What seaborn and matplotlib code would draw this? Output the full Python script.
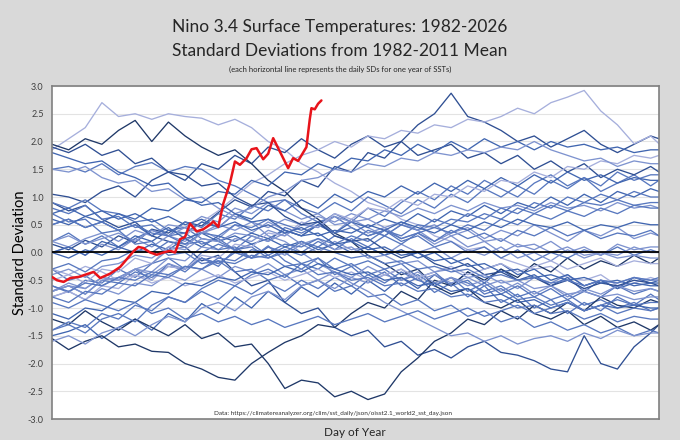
import numpy as np
import pandas as pd
import matplotlib
matplotlib.use("Agg")
import matplotlib.pyplot as plt
import seaborn as sns

# sample days for the historic years (every 10 days, plus the last day)
days = list(range(1, 362, 10)) + [366]

# daily SDs, one list per year
sd_1982 = [0.15, 0.05, 0.22, 0.1, 0.3, 0.18, 0.42, 0.35, 0.55, 0.48,
           0.72, 0.95, 0.82, 1.1, 1.02, 1.3, 1.18, 1.55, 1.45, 1.8,
           1.7, 2.0, 2.3, 2.5, 2.87, 2.45, 2.35, 2.2, 2.0, 2.1,
           1.9, 2.05, 2.2, 1.95, 1.8, 1.95, 2.1, 2.05]
sd_1983 = [1.85, 2.05, 2.25, 2.7, 2.45, 2.5, 2.4, 2.5, 2.45, 2.42,
           2.3, 2.4, 2.25, 2.0, 1.85, 1.6, 1.45, 1.25, 1.1, 0.9,
           0.8, 0.6, 0.5, 0.3, 0.2, 0.05, 0.1, -0.1, -0.2, -0.3,
           -0.25, -0.45, -0.5, -0.4, -0.6, -0.55, -0.45, -0.5]
sd_1984 = [-0.3, -0.5, -0.42, -0.6, -0.45, -0.3, -0.5, -0.2, -0.35, -0.1,
           -0.25, 0.05, -0.1, 0.12, -0.15, -0.3, -0.1, -0.4, -0.25, -0.5,
           -0.35, -0.6, -0.45, -0.72, -0.55, -0.8, -0.6, -0.9, -0.75, -1.0,
           -0.85, -1.1, -0.9, -1.05, -0.8, -0.95, -0.75, -0.85]
sd_1985 = [-1.5, -1.42, -1.3, -1.55, -1.35, -1.2, -1.4, -1.1, -1.25, -0.92,
           -1.1, -0.8, -1.0, -0.7, -0.9, -0.62, -0.8, -0.55, -0.75, -0.5,
           -0.7, -0.45, -0.65, -0.4, -0.6, -0.35, -0.55, -0.3, -0.5, -0.4,
           -0.6, -0.45, -0.7, -0.5, -0.65, -0.45, -0.55, -0.5]
sd_1986 = [-0.6, -0.72, -0.5, -0.55, -0.3, -0.45, -0.2, -0.1, -0.3, 0.0,
           0.15, 0.05, 0.3, 0.2, 0.45, 0.35, 0.5, 0.7, 0.55, 0.8,
           0.65, 0.9, 1.1, 0.95, 1.2, 1.05, 1.3, 1.15, 1.0, 1.25,
           1.4, 1.2, 1.35, 1.1, 1.25, 1.4, 1.2, 1.3]
sd_1987 = [1.05, 1.0, 0.9, 1.1, 1.2, 1.0, 1.3, 1.45, 1.3, 1.6,
           1.5, 1.75, 1.6, 1.9, 1.8, 2.05, 1.85, 1.7, 1.95, 2.1,
           1.9, 2.0, 1.75, 1.85, 1.95, 1.7, 1.8, 1.6, 1.75, 1.5,
           1.65, 1.45, 1.6, 1.35, 1.5, 1.4, 1.55, 1.45]
sd_1988 = [0.9, 0.75, 0.85, 0.6, 0.45, 0.55, 0.3, 0.2, 0.1, -0.15,
           -0.05, -0.35, -0.6, -0.5, -0.9, -1.1, -1.0, -1.35, -1.5, -1.4,
           -1.7, -1.6, -1.85, -1.75, -1.9, -1.7, -1.6, -1.8, -1.85, -1.95,
           -2.1, -2.15, -1.5, -2.0, -2.1, -1.7, -1.45, -1.3]
sd_1989 = [-1.55, -1.75, -1.6, -1.5, -1.7, -1.65, -1.78, -1.8, -2.0, -2.1,
           -2.25, -2.3, -2.0, -1.8, -1.62, -1.5, -1.3, -1.35, -1.1, -0.9,
           -1.0, -0.7, -0.85, -0.5, -0.6, -0.35, -0.5, -0.3, -0.45, -0.2,
           -0.35, -0.1, -0.3, -0.15, -0.25, -0.05, -0.2, -0.1]
sd_1990 = [0.0, 0.1, -0.05, 0.15, 0.05, 0.25, 0.1, 0.3, 0.2, 0.4,
           0.25, 0.5, 0.35, 0.55, 0.4, 0.3, 0.5, 0.35, 0.6, 0.45,
           0.3, 0.5, 0.4, 0.2, 0.35, 0.45, 0.25, 0.4, 0.3, 0.5,
           0.35, 0.2, 0.4, 0.3, 0.45, 0.25, 0.35, 0.3]
sd_1991 = [0.2, 0.35, 0.15, 0.3, 0.1, 0.25, 0.4, 0.3, 0.55, 0.45,
           0.7, 0.6, 0.85, 0.75, 0.95, 0.8, 0.7, 0.9, 0.75, 1.0,
           0.85, 0.7, 0.95, 0.8, 1.05, 0.9, 1.15, 1.0, 1.2, 1.05,
           1.3, 1.15, 1.35, 1.2, 1.45, 1.3, 1.4, 1.4]
sd_1992 = [1.5, 1.55, 1.45, 1.6, 1.4, 1.55, 1.62, 1.45, 1.55, 1.5,
           1.3, 1.2, 1.05, 0.9, 0.95, 0.7, 0.55, 0.65, 0.45, 0.3,
           0.4, 0.2, 0.3, 0.1, 0.2, 0.0, 0.1, -0.1, 0.05, -0.15,
           0.0, -0.1, 0.05, -0.05, 0.1, -0.05, 0.05, 0.0]
sd_1993 = [0.2, 0.1, 0.25, 0.35, 0.2, 0.4, 0.3, 0.5, 0.45, 0.65,
           0.55, 0.8, 0.7, 0.9, 0.75, 0.6, 0.7, 0.5, 0.55, 0.35,
           0.45, 0.25, 0.35, 0.15, 0.3, 0.1, 0.2, 0.0, 0.15, 0.05,
           0.2, 0.0, 0.1, -0.05, 0.15, 0.05, 0.1, 0.1]
sd_1994 = [0.0, -0.1, 0.05, -0.05, 0.1, 0.0, 0.15, 0.05, 0.25, 0.1,
           0.3, 0.2, 0.35, 0.25, 0.4, 0.3, 0.5, 0.35, 0.55, 0.45,
           0.6, 0.5, 0.7, 0.55, 0.75, 0.65, 0.85, 0.7, 0.9, 0.8,
           1.0, 0.85, 1.05, 0.9, 1.1, 1.0, 1.15, 1.1]
sd_1995 = [0.9, 0.8, 0.95, 0.75, 0.7, 0.55, 0.6, 0.4, 0.45, 0.25,
           0.2, 0.05, 0.1, -0.1, 0.0, -0.2, -0.1, -0.3, -0.2, -0.4,
           -0.3, -0.5, -0.4, -0.6, -0.45, -0.55, -0.7, -0.6, -0.8, -0.7,
           -0.85, -0.75, -0.95, -0.85, -1.0, -0.9, -1.05, -1.0]
sd_1996 = [-0.8, -0.7, -0.85, -0.65, -0.75, -0.55, -0.6, -0.4, -0.5, -0.3,
           -0.45, -0.25, -0.35, -0.2, -0.4, -0.3, -0.5, -0.35, -0.45, -0.25,
           -0.4, -0.3, -0.5, -0.4, -0.55, -0.45, -0.6, -0.5, -0.65, -0.45,
           -0.55, -0.4, -0.6, -0.5, -0.55, -0.45, -0.5, -0.5]
sd_1997 = [-0.5, -0.4, -0.55, -0.3, -0.35, -0.1, -0.2, 0.1, 0.3, 0.55,
           0.75, 1.0, 1.25, 1.4, 1.6, 1.75, 1.85, 2.0, 1.9, 2.1,
           2.05, 2.2, 2.15, 2.3, 2.25, 2.4, 2.35, 2.45, 2.6, 2.5,
           2.7, 2.8, 2.92, 2.55, 2.3, 1.96, 2.1, 1.96]
sd_1998 = [1.95, 1.85, 2.05, 1.95, 2.2, 2.38, 2.0, 2.35, 2.1, 1.9,
           1.75, 1.85, 1.6, 1.3, 1.1, 0.8, 0.6, 0.35, 0.2, -0.05,
           -0.2, -0.4, -0.3, -0.6, -0.75, -0.65, -0.9, -1.0, -0.85, -1.1,
           -1.2, -1.05, -1.3, -1.15, -1.35, -1.25, -1.4, -1.3]
sd_1999 = [-1.2, -1.3, -1.05, -1.25, -1.4, -1.2, -1.35, -1.5, -1.3, -1.55,
           -1.45, -1.7, -1.65, -2.0, -2.45, -2.3, -2.35, -2.6, -2.5, -2.65,
           -2.55, -2.15, -1.9, -1.6, -1.45, -1.2, -1.3, -1.05, -1.2, -0.95,
           -1.1, -0.9, -1.05, -0.8, -0.95, -1.0, -0.85, -0.9]
sd_2000 = [-1.4, -1.25, -1.35, -1.1, -1.2, -0.95, -1.05, -0.8, -0.9, -0.7,
           -0.85, -0.6, -0.75, -0.55, -0.7, -0.5, -0.65, -0.45, -0.6, -0.4,
           -0.55, -0.35, -0.5, -0.6, -0.45, -0.7, -0.55, -0.75, -0.6, -0.8,
           -0.65, -0.85, -0.7, -0.8, -0.6, -0.75, -0.65, -0.7]
sd_2001 = [-0.7, -0.55, -0.65, -0.45, -0.5, -0.3, -0.4, -0.2, -0.3, -0.1,
           -0.2, 0.0, -0.1, 0.1, -0.05, 0.15, 0.0, 0.2, 0.05, 0.1,
           -0.05, 0.15, 0.0, 0.1, -0.1, 0.05, -0.05, 0.1, -0.1, 0.0,
           -0.15, 0.05, -0.1, 0.0, -0.05, 0.1, 0.0, 0.0]
sd_2002 = [0.0, 0.1, -0.05, 0.2, 0.1, 0.3, 0.2, 0.4, 0.35, 0.55,
           0.45, 0.7, 0.6, 0.85, 0.75, 0.95, 0.8, 1.05, 0.9, 1.1,
           1.0, 1.2, 1.05, 1.25, 1.1, 1.3, 1.15, 1.35, 1.2, 1.4,
           1.25, 1.45, 1.3, 1.4, 1.25, 1.35, 1.3, 1.3]
sd_2003 = [0.8, 0.7, 0.85, 0.6, 0.65, 0.45, 0.5, 0.3, 0.35, 0.15,
           0.25, 0.05, 0.15, -0.05, 0.1, 0.0, 0.2, 0.05, 0.25, 0.1,
           0.3, 0.15, 0.35, 0.2, 0.4, 0.25, 0.35, 0.2, 0.4, 0.3,
           0.45, 0.3, 0.4, 0.25, 0.35, 0.3, 0.4, 0.3]
sd_2004 = [0.2, 0.3, 0.15, 0.25, 0.35, 0.2, 0.4, 0.3, 0.45, 0.35,
           0.5, 0.4, 0.55, 0.45, 0.6, 0.5, 0.65, 0.55, 0.7, 0.6,
           0.75, 0.65, 0.8, 0.7, 0.85, 0.75, 0.9, 0.8, 0.85, 0.75,
           0.9, 0.8, 0.85, 0.75, 0.9, 0.8, 0.85, 0.8]
sd_2005 = [0.5, 0.6, 0.45, 0.55, 0.4, 0.5, 0.3, 0.45, 0.25, 0.35,
           0.2, 0.3, 0.15, 0.25, 0.1, 0.2, 0.05, 0.15, 0.0, 0.1,
           -0.05, 0.05, -0.1, 0.0, -0.2, -0.1, -0.3, -0.2, -0.4, -0.3,
           -0.5, -0.4, -0.6, -0.5, -0.65, -0.55, -0.6, -0.6]
sd_2006 = [-0.7, -0.6, -0.75, -0.5, -0.55, -0.35, -0.45, -0.25, -0.3, -0.1,
           -0.2, 0.0, -0.1, 0.1, 0.0, 0.2, 0.1, 0.3, 0.2, 0.4,
           0.3, 0.5, 0.4, 0.6, 0.5, 0.7, 0.6, 0.8, 0.7, 0.9,
           0.8, 1.0, 0.9, 1.05, 0.95, 1.1, 1.0, 1.0]
sd_2007 = [0.7, 0.55, 0.6, 0.35, 0.4, 0.15, 0.2, -0.05, 0.0, -0.2,
           -0.15, -0.35, -0.3, -0.5, -0.4, -0.6, -0.5, -0.7, -0.6, -0.8,
           -0.75, -0.95, -0.85, -1.05, -0.95, -1.15, -1.05, -1.25, -1.15, -1.35,
           -1.25, -1.4, -1.3, -1.45, -1.35, -1.5, -1.4, -1.45]
sd_2008 = [-1.6, -1.5, -1.65, -1.45, -1.35, -1.5, -1.3, -1.15, -1.25, -1.0,
           -0.9, -1.05, -0.8, -0.7, -0.85, -0.6, -0.5, -0.65, -0.45, -0.55,
           -0.4, -0.5, -0.35, -0.55, -0.45, -0.6, -0.5, -0.7, -0.55, -0.75,
           -0.6, -0.8, -0.65, -0.75, -0.6, -0.7, -0.65, -0.7]
sd_2009 = [-0.8, -0.7, -0.85, -0.6, -0.65, -0.4, -0.5, -0.25, -0.3, -0.05,
           -0.1, 0.15, 0.1, 0.35, 0.3, 0.55, 0.45, 0.7, 0.6, 0.8,
           0.75, 0.95, 0.85, 1.05, 1.0, 1.2, 1.1, 1.3, 1.25, 1.45,
           1.35, 1.55, 1.5, 1.65, 1.6, 1.75, 1.7, 1.75]
sd_2010 = [1.5, 1.45, 1.55, 1.35, 1.25, 1.3, 1.1, 1.15, 0.95, 1.0,
           0.8, 0.65, 0.55, 0.3, 0.2, 0.0, -0.2, -0.35, -0.55, -0.7,
           -0.9, -1.05, -1.2, -1.35, -1.5, -1.45, -1.6, -1.5, -1.65, -1.55,
           -1.5, -1.6, -1.45, -1.55, -1.4, -1.5, -1.45, -1.45]
sd_2011 = [-1.4, -1.3, -1.45, -1.2, -1.1, -1.25, -0.95, -0.8, -0.9, -0.65,
           -0.5, -0.6, -0.4, -0.3, -0.45, -0.2, -0.3, -0.1, -0.25, -0.15,
           -0.3, -0.2, -0.45, -0.35, -0.6, -0.5, -0.75, -0.65, -0.85, -0.8,
           -0.95, -0.85, -1.05, -0.95, -1.1, -1.0, -1.05, -1.0]
sd_2012 = [-0.7, -0.6, -0.75, -0.5, -0.45, -0.3, -0.35, -0.1, -0.15, 0.1,
           0.05, 0.25, 0.2, 0.4, 0.3, 0.5, 0.45, 0.65, 0.55, 0.6,
           0.45, 0.55, 0.4, 0.5, 0.3, 0.4, 0.2, 0.25, 0.1, 0.15,
           0.0, 0.1, -0.05, 0.0, -0.1, -0.05, -0.1, -0.1]
sd_2013 = [-0.3, -0.4, -0.25, -0.35, -0.5, -0.4, -0.55, -0.45, -0.6, -0.5,
           -0.4, -0.55, -0.45, -0.35, -0.5, -0.4, -0.3, -0.45, -0.35, -0.5,
           -0.4, -0.3, -0.45, -0.35, -0.25, -0.4, -0.3, -0.2, -0.35, -0.25,
           -0.15, -0.3, -0.2, -0.1, -0.25, -0.15, -0.2, -0.2]
sd_2014 = [-0.3, -0.2, -0.35, -0.15, -0.1, 0.05, 0.0, 0.2, 0.15, 0.35,
           0.3, 0.5, 0.45, 0.6, 0.5, 0.4, 0.55, 0.35, 0.45, 0.3,
           0.4, 0.25, 0.35, 0.45, 0.35, 0.5, 0.4, 0.6, 0.5, 0.7,
           0.6, 0.75, 0.65, 0.8, 0.7, 0.85, 0.8, 0.8]
sd_2015 = [0.6, 0.5, 0.65, 0.55, 0.7, 0.6, 0.8, 0.75, 0.95, 0.9,
           1.1, 1.05, 1.3, 1.2, 1.45, 1.4, 1.6, 1.5, 1.7, 1.65,
           1.85, 1.75, 1.95, 1.8, 2.0, 1.85, 2.05, 1.9, 2.0, 1.85,
           2.0, 1.9, 1.95, 1.85, 1.9, 1.8, 1.85, 1.85]
sd_2016 = [1.9, 1.8, 1.95, 1.75, 1.85, 1.6, 1.7, 1.45, 1.4, 1.2,
           1.25, 1.0, 0.85, 0.9, 0.65, 0.5, 0.55, 0.3, 0.2, 0.25,
           0.05, -0.1, 0.0, -0.2, -0.3, -0.2, -0.4, -0.35, -0.5, -0.45,
           -0.6, -0.5, -0.65, -0.55, -0.6, -0.5, -0.55, -0.6]
sd_2017 = [-0.4, -0.3, -0.45, -0.25, -0.2, -0.05, -0.1, 0.1, 0.05, 0.25,
           0.2, 0.35, 0.3, 0.2, 0.35, 0.15, 0.25, 0.05, 0.1, -0.1,
           -0.05, -0.2, -0.15, -0.35, -0.3, -0.45, -0.4, -0.55, -0.5, -0.65,
           -0.6, -0.75, -0.7, -0.8, -0.75, -0.85, -0.8, -0.8]
sd_2018 = [-0.8, -0.9, -0.7, -0.75, -0.55, -0.6, -0.4, -0.45, -0.25, -0.3,
           -0.1, -0.15, 0.05, 0.0, 0.15, 0.1, 0.25, 0.15, 0.3, 0.2,
           0.4, 0.3, 0.5, 0.45, 0.6, 0.55, 0.7, 0.6, 0.8, 0.7,
           0.85, 0.75, 0.9, 0.85, 0.95, 0.85, 0.9, 0.9]
sd_2019 = [0.7, 0.8, 0.65, 0.75, 0.6, 0.7, 0.55, 0.65, 0.5, 0.6,
           0.45, 0.55, 0.4, 0.5, 0.35, 0.45, 0.3, 0.4, 0.35, 0.5,
           0.4, 0.55, 0.45, 0.35, 0.5, 0.4, 0.55, 0.45, 0.6, 0.5,
           0.45, 0.55, 0.4, 0.5, 0.45, 0.55, 0.5, 0.5]
sd_2020 = [0.5, 0.6, 0.45, 0.55, 0.4, 0.5, 0.35, 0.3, 0.15, 0.2,
           0.05, 0.1, -0.1, -0.05, -0.25, -0.2, -0.4, -0.35, -0.5, -0.45,
           -0.6, -0.55, -0.7, -0.65, -0.8, -0.75, -0.9, -0.85, -1.0, -0.95,
           -1.1, -1.05, -1.2, -1.1, -1.25, -1.15, -1.2, -1.2]
sd_2021 = [-1.1, -1.2, -1.0, -1.05, -0.85, -0.9, -0.7, -0.75, -0.55, -0.6,
           -0.45, -0.5, -0.35, -0.4, -0.25, -0.35, -0.2, -0.3, -0.4, -0.35,
           -0.5, -0.45, -0.6, -0.55, -0.7, -0.65, -0.8, -0.75, -0.9, -0.85,
           -1.0, -0.9, -1.05, -0.95, -1.0, -0.95, -1.0, -1.0]
sd_2022 = [-0.9, -1.0, -0.85, -0.95, -1.05, -0.9, -1.1, -1.0, -1.2, -1.1,
           -1.25, -1.15, -1.3, -1.2, -1.35, -1.25, -1.15, -1.3, -1.2, -1.1,
           -1.25, -1.15, -1.05, -1.2, -1.1, -1.0, -1.15, -1.05, -0.95, -1.1,
           -1.0, -0.9, -1.05, -0.95, -0.85, -0.95, -0.9, -0.9]
sd_2023 = [-0.7, -0.6, -0.65, -0.45, -0.5, -0.3, -0.2, 0.05, 0.1, 0.35,
           0.45, 0.7, 0.8, 1.0, 1.1, 1.3, 1.35, 1.5, 1.45, 1.6,
           1.55, 1.7, 1.65, 1.8, 1.75, 1.85, 1.8, 1.9, 1.85, 2.0,
           1.85, 1.75, 1.65, 1.7, 1.55, 1.65, 1.6, 1.6]
sd_2024 = [1.8, 1.7, 1.6, 1.65, 1.45, 1.35, 1.2, 1.25, 1.0, 0.85,
           0.9, 0.7, 0.55, 0.6, 0.4, 0.3, 0.35, 0.15, 0.2, 0.05,
           0.1, -0.05, 0.0, -0.15, -0.1, -0.25, -0.2, -0.35, -0.3, -0.45,
           -0.4, -0.5, -0.45, -0.55, -0.5, -0.6, -0.55, -0.55]
sd_2025 = [-0.6, -0.7, -0.55, -0.6, -0.45, -0.5, -0.35, -0.4, -0.25, -0.3,
           -0.15, -0.2, -0.05, -0.1, 0.05, -0.05, 0.1, 0.0, -0.1, -0.05,
           -0.2, -0.15, -0.3, -0.25, -0.35, -0.3, -0.45, -0.4, -0.5, -0.45,
           -0.55, -0.5, -0.6, -0.5, -0.55, -0.45, -0.5, -0.45]

# current year (partial)
days_2026 = [1, 4, 8, 12, 17, 21, 26, 30, 36, 42, 46, 50, 53, 56, 60, 64,
             68, 72, 75, 78, 81, 84, 88, 92, 96, 98, 101, 104, 108, 111,
             114, 118, 121, 124, 128, 131, 134, 138, 143, 146, 149, 154,
             156, 157, 159, 161, 163]
sd_2026 = [-0.44, -0.50, -0.53, -0.46, -0.44, -0.40, -0.35, -0.46, -0.38,
           -0.26, -0.12, 0.02, 0.10, 0.08, 0.00, -0.04, 0.00, 0.03, 0.00,
           0.24, 0.28, 0.52, 0.38, 0.42, 0.50, 0.56, 0.46, 0.88, 1.25,
           1.64, 1.58, 1.70, 1.86, 1.88, 1.68, 1.78, 2.06, 1.82, 1.52,
           1.70, 1.65, 1.90, 2.40, 2.60, 2.58, 2.68, 2.74]

years = list(range(1982, 2026))
series = [sd_1982, sd_1983, sd_1984, sd_1985, sd_1986, sd_1987, sd_1988,
          sd_1989, sd_1990, sd_1991, sd_1992, sd_1993, sd_1994, sd_1995,
          sd_1996, sd_1997, sd_1998, sd_1999, sd_2000, sd_2001, sd_2002,
          sd_2003, sd_2004, sd_2005, sd_2006, sd_2007, sd_2008, sd_2009,
          sd_2010, sd_2011, sd_2012, sd_2013, sd_2014, sd_2015, sd_2016,
          sd_2017, sd_2018, sd_2019, sd_2020, sd_2021, sd_2022, sd_2023,
          sd_2024, sd_2025]

# shade (0 light .. 6 dark) used for each year's line
shades = ["#c6c9ea", "#a6afdc", "#7e93cf", "#5878bf", "#4166b0", "#2f4f93", "#1f3868"]
shade_idx = [5, 1, 3, 4, 3, 5, 5, 6, 2, 3, 3, 2, 4, 3, 2, 1, 6, 6, 3, 2, 4,
             3, 2, 4, 3, 3, 2, 1, 2, 3, 2, 1, 3, 4, 5, 2, 3, 4, 3, 4, 3, 2,
             4, 3]
palette = {y: shades[i] for y, i in zip(years, shade_idx)}

rows = []
for y, vals in zip(years, series):
    for d, v in zip(days, vals):
        rows.append((y, d, v))
df = pd.DataFrame(rows, columns=["year", "day", "sd"])
df_now = pd.DataFrame({"day": days_2026, "sd": sd_2026})

sns.set_style("white")
plt.rcParams["font.family"] = ["Lato", "DejaVu Sans"]

fig = plt.figure(figsize=(6.8, 4.4), dpi=100)
fig.patch.set_facecolor("#d9d9d9")
ax = fig.add_axes([52 / 680, 21 / 440, 607 / 680, 333 / 440])
ax.set_facecolor("white")

for yv in np.arange(-3.0, 3.01, 0.5):
    ax.axhline(yv, color="#e3e3e3", lw=0.8, zorder=0)

sns.lineplot(data=df, x="day", y="sd", hue="year", palette=palette,
             units="year", estimator=None, sort=False, legend=False,
             linewidth=0.95, ax=ax)
ax.axhline(0, color="black", lw=1.3, zorder=3)
sns.lineplot(data=df_now, x="day", y="sd", color="#e8141b", linewidth=1.8,
             estimator=None, sort=False, ax=ax, zorder=4)

ax.set_xlim(1, 366)
ax.set_ylim(-3, 3)
ax.set_xticks([])
ax.set_yticks(np.arange(-3.0, 3.01, 0.5))
ax.set_yticklabels([f"{v:.1f}" for v in np.arange(-3.0, 3.01, 0.5)])
ax.tick_params(axis="y", length=0, labelsize=6.5, labelcolor="#404040", pad=6)
ax.set_xlabel("")
ax.set_ylabel("Standard Deviation", fontsize=10.5, color="black")
ax.yaxis.set_label_coords(-25 / 607, 0.5)
for s in ax.spines.values():
    s.set_color("#808080")
    s.set_linewidth(1.2)

fig.text(0.5, 1 - 27 / 440, "Nino 3.4 Surface Temperatures: 1982-2026",
         ha="center", va="center", fontsize=12.5)
fig.text(0.5, 1 - 51 / 440, "Standard Deviations from 1982-2011 Mean",
         ha="center", va="center", fontsize=12.5)
fig.text(0.5, 1 - 69 / 440,
         "(each horizontal line represents the daily SDs for one year of SSTs)",
         ha="center", va="center", fontsize=5.5)
fig.text(355 / 680, 1 - 432 / 440, "Day of Year", ha="center", va="center",
         fontsize=8.5)
fig.text(214 / 680, 1 - 413 / 440,
         "Data: https://climatereanalyzer.org/clim/sst_daily/json/oisst2.1_world2_sst_day.json",
         ha="left", va="center", fontsize=4.6, color="#303030")

fig.savefig("out.png", dpi=100, facecolor=fig.get_facecolor())
